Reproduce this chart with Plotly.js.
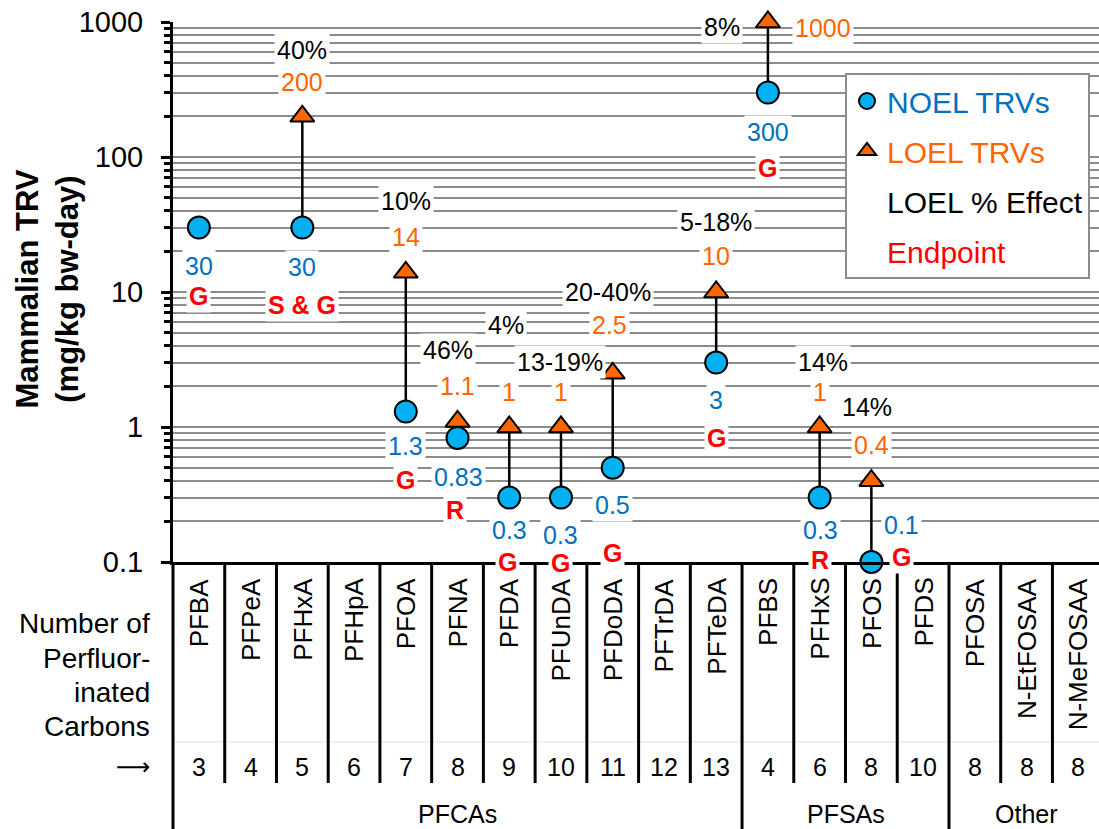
<!DOCTYPE html>
<html>
<head>
<meta charset="utf-8">
<script src="https://cdn.plot.ly/plotly-3.0.1.min.js"></script>
<style>
html,body{margin:0;padding:0;background:#fff;overflow:hidden;}
#chart{width:1099px;height:829px;}
</style>
</head>
<body>
<div id="chart"></div>
<script>
// ---------------- data ----------------
const categories = ['PFBA','PFPeA','PFHxA','PFHpA','PFOA','PFNA','PFDA','PFUnDA','PFDoDA','PFTrDA','PFTeDA','PFBS','PFHxS','PFOS','PFDS','PFOSA','N-EtFOSAA','N-MeFOSAA'];
const carbons = [3,4,5,6,7,8,9,10,11,12,13,4,6,8,10,8,8,8];
const noel = [30,null,30,null,1.3,0.83,0.3,0.3,0.5,null,3,300,0.3,0.1,null,null,null,null];
const loel = [null,null,200,null,14,1.1,1,1,2.5,null,10,1000,1,0.4,null,null,null,null];
const pctEffect = ['','','40%','','10%','46%','4%','13-19%','20-40%','','5-18%','8%','14%','14%','','','',''];
const endpoint = ['G','','S & G','','G','R','G','G','G','','G','G','R','G','','','',''];
const groupNames = ['PFCAs','PFSAs','Other'];
const groupSizes = [11,4,3];
const yTickVals = [0.1,1,10,100,1000];
const yTickText = ['0.1','1','10','100','1000'];
const leftLabelLines = ['Number of','Perfluor-','inated','Carbons'];

// ---------------- label placement (pixel offsets, layout only) ----------------
// nl: NOEL value label, ep: endpoint label (both relative to NOEL point)
// ll: LOEL value label, pc: % effect label (both relative to LOEL point)
const place = {
  0:{nl:[0,-38],ep:[0,-68]},
  2:{nl:[0,-39],ep:[0,-77],ll:[0,34],pc:[0,66]},
  4:{nl:[0,-34],ep:[0,-68],ll:[0,35],pc:[0,71]},
  5:{nl:[1,-39],ep:[-3,-72],ll:[0,35],pc:[-10,71]},
  6:{nl:[0,-32],ep:[-2,-64],ll:[0,35],pc:[-3,102]},
  7:{nl:[0,-37],ep:[0,-65],ll:[0,35],pc:[-1,65]},
  8:{nl:[0,-37],ep:[0,-85],ll:[-3,48],pc:[-5,81]},
  10:{nl:[0,-37],ep:[0,-75],ll:[0,36],pc:[0,70]},
  11:{nl:[0,-39],ep:[0,-75],ll:[55,-6],pc:[-46,-5]},
  12:{nl:[1,-32],ep:[0,-62],ll:[0,35],pc:[3,65]},
  13:{nl:[30,37],ep:[30,5],ll:[0,36],pc:[-4,74]}
};

const FONT = 'Liberation Sans, Arial, sans-serif';
const C_NOEL_TXT = '#0070c0', C_LOEL_TXT = '#ff6600', C_RED = '#ff0000';
const C_CIRCLE = '#00b0f0', C_TRI = '#ff6600', C_GRID = '#8c8c8c';

// plot area in pixels: left 173, right 1099, top 22, bottom 562
function yp(px){ return (562 - px) / 540; }
function xp(px){ return (px - 173) / 926; }

const idx = categories.map((c,i)=>i);

// connectors
const cx = [], cy = [];
idx.forEach(i=>{ if(noel[i]!=null && loel[i]!=null){ cx.push(i,i,null); cy.push(noel[i],loel[i],null);} });

const blank = {color:'rgba(0,0,0,0)', size:10, line:{width:0, color:'rgba(0,0,0,0)'}};
const traces = [
  {x:cx, y:cy, mode:'lines', line:{color:'black', width:2.5}, showlegend:false, hoverinfo:'skip', cliponaxis:false},
  {x:idx, y:noel, mode:'markers', name:'<span style="color:'+C_NOEL_TXT+'">NOEL TRVs</span>', legendgroup:'a',
   marker:{symbol:'circle', size:22, color:C_CIRCLE, line:{color:'black', width:2}}, cliponaxis:false},
  {x:idx, y:loel, mode:'markers', name:'<span style="color:'+C_LOEL_TXT+'">LOEL TRVs</span>', legendgroup:'b',
   marker:{symbol:'triangle-up', size:21, color:C_TRI, line:{color:'black', width:2}}, cliponaxis:false},
  {x:[null], y:[null], mode:'markers', name:'<span style="color:black">LOEL % Effect</span>', legendgroup:'c', marker:blank},
  {x:[null], y:[null], mode:'markers', name:'<span style="color:'+C_RED+'">Endpoint</span>', legendgroup:'d', marker:blank}
];

// ---------------- annotations ----------------
const ann = [];
function dataLabel(i, val, txt, off, color, bold){
  ann.push({xref:'x', yref:'y', x:i, y:Math.log10(val), text:txt, showarrow:false,
    xshift:off[0], yshift:off[1], bgcolor:'white', borderpad:2,
    font:{family:FONT, size:25, color:color, weight: bold?700:400}});
}
idx.forEach(i=>{
  const p = place[i]; if(!p) return;
  if(noel[i]!=null){
    dataLabel(i, noel[i], String(noel[i]), p.nl, C_NOEL_TXT, false);
    if(endpoint[i]) dataLabel(i, noel[i], endpoint[i], p.ep, C_RED, true);
  }
  if(loel[i]!=null){
    dataLabel(i, loel[i], String(loel[i]), p.ll, C_LOEL_TXT, false);
    if(pctEffect[i]) dataLabel(i, loel[i], pctEffect[i], p.pc, 'black', false);
  }
});

// y-axis title
ann.push({xref:'paper', yref:'paper', x:xp(46.5), y:yp(289), text:'Mammalian TRV<br>(mg/kg bw-day)',
  textangle:-90, showarrow:false, xanchor:'center', yanchor:'middle',
  font:{family:FONT, size:31, color:'black', weight:700}});

// category labels (rotated) and carbon numbers
idx.forEach(i=>{
  ann.push({xref:'x', yref:'paper', x:i, y:yp(576), text:categories[i], textangle:-90, showarrow:false,
    xanchor:'center', yanchor:'top', font:{family:FONT, size:26, color:'black'}});
  ann.push({xref:'x', yref:'paper', x:i, y:yp(767), text:String(carbons[i]), showarrow:false,
    xanchor:'center', yanchor:'middle', font:{family:FONT, size:25, color:'black'}});
});

// left explanatory text
const leftY = [624, 658, 692, 726];
leftLabelLines.forEach((t,k)=>{
  ann.push({xref:'paper', yref:'paper', x:xp(152), y:yp(leftY[k]), text:t, showarrow:false,
    xanchor:'right', yanchor:'middle', font:{family:FONT, size:28, color:'black'}});
});
ann.push({xref:'paper', yref:'paper', x:xp(152), y:yp(767), text:'\u27F6', showarrow:false,
  xanchor:'right', yanchor:'middle', font:{family:'DejaVu Sans, sans-serif', size:24, color:'black'}});

// groups
let start = -0.5;
const shapes = [];
groupNames.forEach((g,k)=>{
  const end = start + groupSizes[k];
  ann.push({xref:'x', yref:'paper', x:(start+end)/2, y:yp(814), text:g, showarrow:false,
    xanchor:'center', yanchor:'middle', font:{family:FONT, size:25, color:'black'}});
  start = end;
});

// ---------------- table shapes ----------------
const groupBounds = [];
let acc = -0.5;
groupSizes.forEach(s=>{ acc += s; groupBounds.push(acc); });
for(let k=1;k<categories.length;k++){
  const xb = k - 0.5;
  const isGroup = groupBounds.indexOf(xb) >= 0;
  shapes.push({type:'line', xref:'x', yref:'paper', x0:xb, x1:xb, y0:0, y1: isGroup ? yp(829) : yp(783),
    line:{color:'black', width:3}});
}
shapes.push({type:'line', xref:'paper', yref:'paper', x0:0, x1:0, y0:0, y1:yp(829), line:{color:'black', width:3}});
shapes.push({type:'line', xref:'paper', yref:'paper', x0:0, x1:1, y0:yp(742), y1:yp(742), line:{color:'#e2e2e2', width:1}, layer:'below'});

// minor ticks at 2..9 of each decade
const minorVals = [];
for(let d=-1; d<3; d++){ for(let m=2;m<=9;m++){ minorVals.push(+(m*Math.pow(10,d)).toPrecision(3)); } }

const layout = {
  width:1099, height:829,
  margin:{l:173, r:0, t:22, b:267},
  paper_bgcolor:'white', plot_bgcolor:'white',
  font:{family:FONT, color:'black'},
  xaxis:{range:[-0.5, 17.4], showgrid:false, zeroline:false, showticklabels:false, ticks:'',
    showline:true, linecolor:'black', linewidth:3, fixedrange:true},
  yaxis:{type:'log', range:[-1,3], tickmode:'array', tickvals:yTickVals, ticktext:yTickText,
    ticks:'outside', ticklen:9, tickwidth:3, tickcolor:'black', ticklabelstandoff:12,
    tickfont:{family:FONT, size:29, color:'black'},
    showline:true, linecolor:'black', linewidth:3,
    showgrid:true, gridcolor:C_GRID, gridwidth:2, zeroline:false,
    minor:{tickmode:'array', tickvals:minorVals, ticks:'outside', ticklen:6, tickwidth:3, tickcolor:'black',
      showgrid:true, gridcolor:C_GRID, gridwidth:2},
    fixedrange:true},
  showlegend:true,
  legend:{x:xp(845), y:yp(73), xanchor:'left', yanchor:'top', bgcolor:'white', bordercolor:C_GRID, borderwidth:2,
    font:{family:FONT, size:30, color:'black'}, traceorder:'grouped', tracegroupgap:8, itemsizing:'trace'},
  annotations:ann,
  shapes:shapes
};

Plotly.newPlot('chart', traces, layout, {staticPlot:true, displayModeBar:false});
</script>
</body>
</html>
